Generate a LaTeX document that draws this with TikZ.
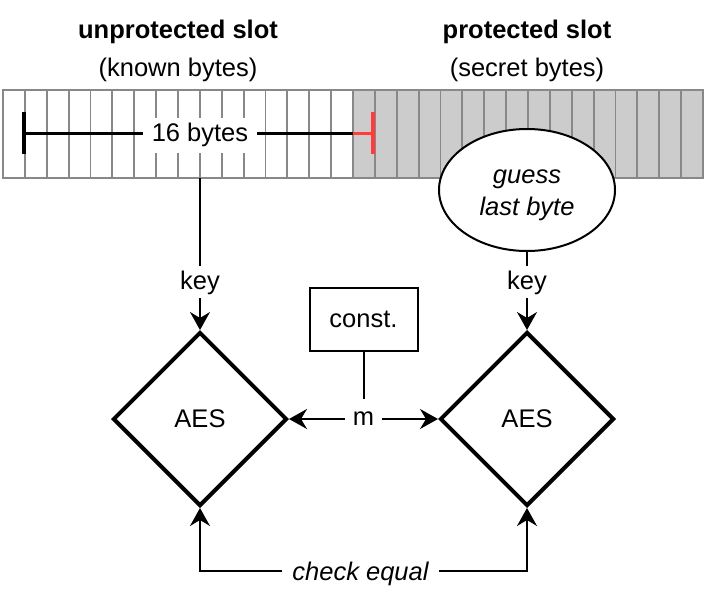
\documentclass[tikz,border=0pt]{standalone}
\usepackage{fontspec}
\setmainfont{Liberation Sans}
\usetikzlibrary{shapes.geometric,arrows.meta}
\definecolor{cellgray}{HTML}{CCCCCC}
\definecolor{linegray}{HTML}{888888}
\definecolor{markred}{HTML}{FF3B3B}
\newcommand{\bigfont}{\fontsize{25.5}{30}\selectfont}
\begin{document}
\begin{tikzpicture}[x=1pt,y=-1pt, font=\bigfont,
  lab/.style={anchor=base, inner sep=4pt},
  conn/.style={line width=2pt},
  arr/.style={conn, -{Stealth[length=18pt,width=20pt,inset=6pt]}},
  aes/.style={diamond, draw, line width=4pt, minimum width=174pt, minimum height=174pt, inner sep=0pt, fill=white},
  cellline/.style={draw=linegray, line width=1.8pt},
  bracket/.style={line width=3pt},
  tick/.style={line width=3.8pt}]
\useasboundingbox (0,0) rectangle (706,599);

% titles
\node[lab, font=\bigfont\bfseries] (tl) at (178,39) {unprotected slot};
\node[lab] (tl2) at (178,77) {(known bytes)};
\node[lab, font=\bigfont\bfseries] (tr) at (527,39) {protected slot};
\node[lab] (tr2) at (527,77) {(secret bytes)};

% byte strip
\fill[white] (3,90) rectangle (353,178);
\fill[cellgray] (353,90) rectangle (703,178);
\foreach \i in {1,...,31} \draw[cellline] ({3+\i*21.875},90) -- ({3+\i*21.875},178);
\draw[cellline] (3,90) rectangle (703,178);

% 16 bytes bracket
\coordinate (bl) at (24,133);
\coordinate (bm) at (353,133);
\coordinate (br) at (373,133);
\node[lab, fill=white, inner xsep=9pt, inner ysep=6pt] (bytes) at (200,142) {16 bytes};
\draw[bracket] (bl) -- (bl -| bytes.west);
\draw[bracket] (bm -| bytes.east) -- (bm);
\draw[bracket, markred] (bm) -- (br);
\draw[tick] (bl) ++(0,-21) -- ++(0,42);
\draw[tick, markred] (br) ++(0,-21) -- ++(0,42);

% guess ellipse
\node[ellipse, draw, line width=2pt, fill=white, minimum width=176pt, minimum height=122pt, inner sep=0pt] (guess) at (527,190) {};
\node[lab, font=\bigfont\itshape] (guess1) at (527,183) {guess};
\node[lab, font=\bigfont\itshape] (guess2) at (527,215) {last byte};

% AES blocks
\node[aes] (AESL) at (200,419) {AES};
\node[aes] (AESR) at (527,419) {AES};

% const and m
\node[draw, line width=2pt, minimum width=108pt, minimum height=63pt, inner sep=0pt] (const) at (363.5,319.5) {const.};
\node[inner xsep=8pt, inner ysep=13pt] (m) at (363.5,419) {m};
\draw[conn] (const.south) -- (m.north);
\draw[arr] (m.west) -- (AESL.east);
\draw[arr] (m.east) -- (AESR.west);

% keys
\coordinate (sb) at (200,178);
\node[lab] (keyL) at (200,289) {key};
\draw[conn] (sb) -- (keyL.north);
\draw[arr] (keyL.south) -- (AESL.north);
\node[lab] (keyR) at (527,289) {key};
\draw[conn] (guess.south) -- (keyR.north);
\draw[arr] (keyR.south) -- (AESR.north);

% check equal
\node[lab, font=\bigfont\itshape, inner xsep=10pt, text depth=0pt] (check) at (360.5,580) {check equal};
\draw[arr] (check.west) -| (AESL.south);
\draw[arr] (check.east) -| (AESR.south);
\end{tikzpicture}
\end{document}
